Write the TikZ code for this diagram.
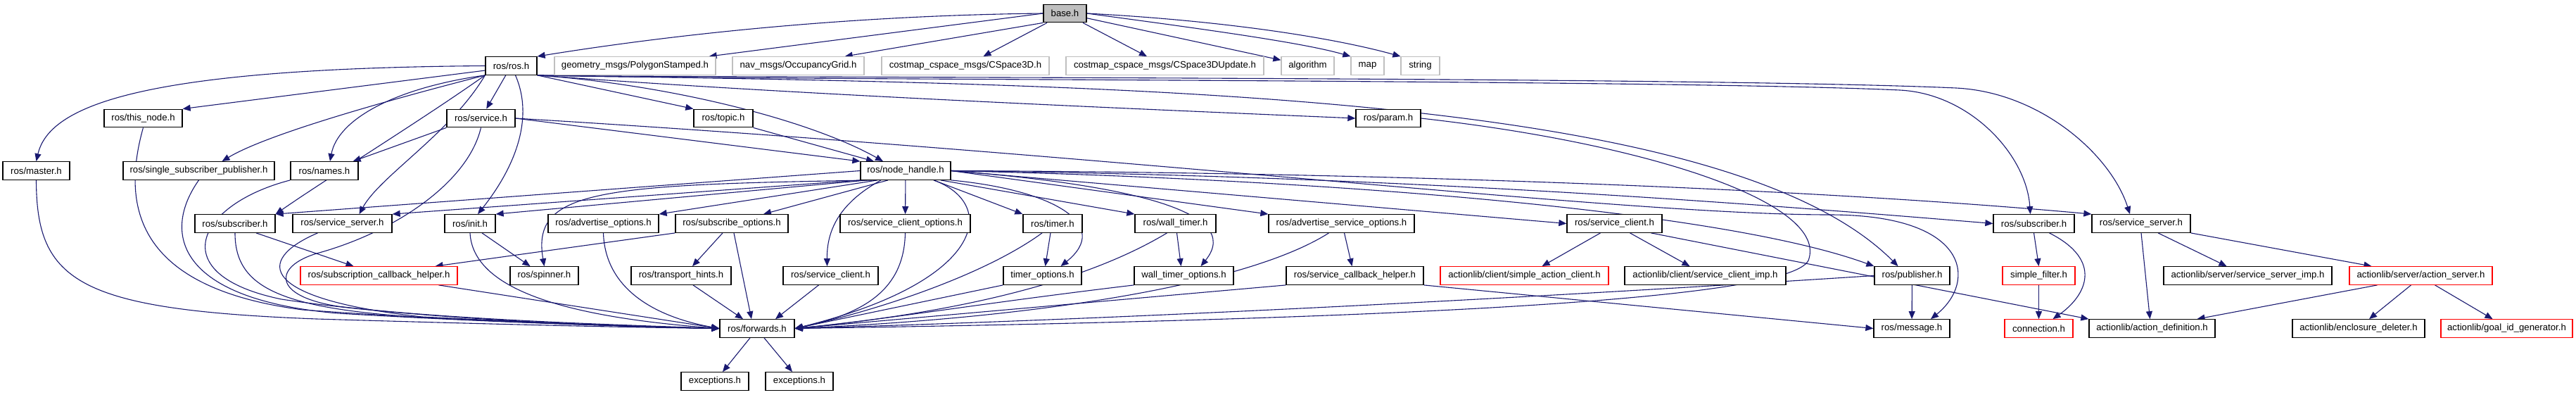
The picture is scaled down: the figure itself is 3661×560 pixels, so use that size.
\documentclass[tikz,border=0pt]{standalone}
\usepackage{fontspec}
\newfontfamily\dox{Liberation Sans}
\usetikzlibrary{arrows.meta,backgrounds}
\definecolor{edgeblue}{HTML}{191970}
\definecolor{gborder}{HTML}{BFBFBF}
\definecolor{basefill}{HTML}{BFBFBF}
\begin{document}
\begin{tikzpicture}[x=1pt,y=-1pt,
  nb/.style={draw=black,line width=1.3pt,fill=white,minimum height=25.5pt,inner sep=0pt,font={\dox\fontsize{13.2}{15}\selectfont}},
  ng/.style={nb,draw=gborder},
  nr/.style={nb,draw=red},
  e/.style={draw=edgeblue,line width=1.1pt,-{Triangle[length=11pt,width=9pt]}}]
\useasboundingbox (0,0) rectangle (3661,560);
% row 1
\node[nb,fill=basefill,minimum width=61pt] (base) at (1513.5,19) {base.h};
% row 2
\node[nb,minimum width=73pt] (ros) at (726.5,93.5) {ros/ros.h};
\node[ng,minimum width=229pt] (geom) at (902.5,93.5) {geometry\_msgs/PolygonStamped.h};
\node[ng,minimum width=187pt] (nav) at (1134.5,93.5) {nav\_msgs/OccupancyGrid.h};
\node[ng,minimum width=238pt] (cs3d) at (1372,93.5) {costmap\_cspace\_msgs/CSpace3D.h};
\node[ng,minimum width=281pt] (cs3du) at (1655.5,93.5) {costmap\_cspace\_msgs/CSpace3DUpdate.h};
\node[ng,minimum width=75pt] (algo) at (1858.5,93.5) {algorithm};
\node[ng,minimum width=47pt] (map) at (1943.5,93.5) {map};
\node[ng,minimum width=55pt] (str) at (2018.5,93.5) {string};
% row 3
\node[nb,minimum width=111pt] (thisnode) at (203.5,168) {ros/this\_node.h};
\node[nb,minimum width=97pt] (service) at (683.5,168) {ros/service.h};
\node[nb,minimum width=84pt] (topic) at (1028,168) {ros/topic.h};
\node[nb,minimum width=92pt] (param) at (1973,168) {ros/param.h};
% row 4
\node[nb,minimum width=95pt] (master) at (51.5,242.5) {ros/master.h};
\node[nb,minimum width=215pt] (ssp) at (282.5,242.5) {ros/single\_subscriber\_publisher.h};
\node[nb,minimum width=96pt] (names) at (461,242.5) {ros/names.h};
\node[nb,minimum width=128pt] (nh) at (1287,242.5) {ros/node\_handle.h};
% row 5
\node[nb,minimum width=114pt] (subL) at (334,317.5) {ros/subscriber.h};
\node[nb,minimum width=141pt] (ssL) at (486.5,317.5) {ros/service\_server.h};
\node[nb,minimum width=72pt] (init) at (668,317.5) {ros/init.h};
\node[nb,minimum width=157pt] (advopt) at (857.5,317.5) {ros/advertise\_options.h};
\node[nb,minimum width=160pt] (subopt) at (1040,317.5) {ros/subscribe\_options.h};
\node[nb,minimum width=185pt] (sco) at (1286.5,317.5) {ros/service\_client\_options.h};
\node[nb,minimum width=84pt] (timer) at (1496,317.5) {ros/timer.h};
\node[nb,minimum width=115pt] (wtimer) at (1670.5,317.5) {ros/wall\_timer.h};
\node[nb,minimum width=207pt] (aso) at (1906.5,317.5) {ros/advertise\_service\_options.h};
\node[nb,minimum width=135pt] (scR) at (2294.5,317.5) {ros/service\_client.h};
\node[nb,minimum width=115pt] (subR) at (2890.5,317.5) {ros/subscriber.h};
\node[nb,minimum width=140pt] (ssR) at (3043,317.5) {ros/service\_server.h};
% row 6
\node[nr,minimum width=223pt] (sch) at (538.5,391.5) {ros/subscription\_callback\_helper.h};
\node[nb,minimum width=97pt] (spinner) at (773.5,391.5) {ros/spinner.h};
\node[nb,minimum width=142pt] (th) at (968,391.5) {ros/transport\_hints.h};
\node[nb,minimum width=135pt] (scL) at (1180.5,391.5) {ros/service\_client.h};
\node[nb,minimum width=111pt] (topt) at (1481.5,391.5) {timer\_options.h};
\node[nb,minimum width=141pt] (wtopt) at (1682.5,391.5) {wall\_timer\_options.h};
\node[nb,minimum width=195pt] (scbh) at (1925.5,391.5) {ros/service\_callback\_helper.h};
\node[nr,minimum width=239pt] (sac) at (2166.5,391.5) {actionlib/client/simple\_action\_client.h};
\node[nb,minimum width=229pt] (sci) at (2423.5,391.5) {actionlib/client/service\_client\_imp.h};
\node[nb,minimum width=107pt] (pub) at (2717.5,391.5) {ros/publisher.h};
\node[nr,minimum width=103pt] (sf) at (2897.5,391.5) {simple\_filter.h};
\node[nb,minimum width=239pt] (ssi) at (3194.5,391.5) {actionlib/server/service\_server\_imp.h};
\node[nr,minimum width=203pt] (as) at (3440.5,391.5) {actionlib/server/action\_server.h};
% row 7
\node[nb,minimum width=106pt] (fwd) at (1076,466.5) {ros/forwards.h};
\node[nb,minimum width=108pt] (msg) at (2717,466.5) {ros/message.h};
\node[nr,minimum width=97pt] (conn) at (2897.5,466.5) {connection.h};
\node[nb,minimum width=179pt] (ad) at (3058.5,466.5) {actionlib/action\_definition.h};
\node[nb,minimum width=188pt] (ed) at (3352,466.5) {actionlib/enclosure\_deleter.h};
\node[nr,minimum width=187pt] (gid) at (3562.5,466.5) {actionlib/goal\_id\_generator.h};
% row 8
\node[nb,minimum width=96pt] (exc1) at (1016,541.5) {exceptions.h};
\node[nb,minimum width=96pt] (exc2) at (1136,541.5) {exceptions.h};

\begin{pgfonlayer}{background}
% base
\draw[e] (base.west) .. controls (1200,22) and (950,50) .. (ros.north east);
\draw[e] (base.west) -- ([xshift=-10pt]geom.north east);
\draw[e] (base.south west) -- ([xshift=-28pt]nav.north east);
\draw[e] (base) -- (cs3d);
\draw[e] (base) -- (cs3du);
\draw[e] (base) -- (algo);
\draw[e] (base.east) .. controls (1700,40) and (1850,60) .. (map.north west);
\draw[e] (base.east) .. controls (1750,30) and (1900,55) .. (str.north west);
% ros
\draw[e] (ros.west) .. controls (200,97) and (70,150) .. (master.north);
\draw[e] (ros.190) -- (thisnode.north east);
\draw[e] (ros.south west) .. controls (560,140) and (380,190) .. ([xshift=33pt]ssp.north);
\draw[e] (ros.south west) .. controls (560,125) and (480,170) .. ([xshift=8pt]names.north);
\draw[e] (ros.south west) .. controls (600,170) and (470,250) .. (subL.north east);
\draw[e] (ros.south west) .. controls (640,190) and (540,250) .. ([xshift=24pt]ssL.north);
\draw[e] (ros) -- (service);
\draw[e] ([xshift=6pt]ros.south) .. controls (760,170) and (730,240) .. ([xshift=11pt]init.north);
\draw[e] (ros.south east) -- (topic.north west);
\draw[e] (ros.south east) .. controls (950,120) and (1150,170) .. ([xshift=-32pt]nh.north);
\draw[e] (ros.south east) .. controls (1100,132) and (1500,150) .. (param.west);
\draw[e] (ros.south east) .. controls (1600,120) and (2450,130) .. ([xshift=-20pt]pub.north);
\draw[e] (ros.south east) .. controls (1000,114) and (2350,112) .. (2700,128) .. controls (2800,133) and (2880,220) .. ([xshift=-5pt]subR.north);
\draw[e] (ros.south east) .. controls (1000,111) and (2400,108) .. (2780,125) .. controls (2900,131) and (3000,220) .. ([xshift=-16pt]ssR.north);
% service
\draw[e] (service.south west) -- ([xshift=-8pt]names.north east);
\draw[e] (service.east) -- (nh.north west);
\draw[e] (service.south) .. controls (665,260) and (560,330) .. (450,360) .. controls (390,378) and (385,420) .. (480,435) .. controls (650,455) and (900,462) .. (fwd.west);
\draw[e] (service.east) .. controls (1600,220) and (2300,305) .. (2600,305) .. controls (2800,305) and (2810,400) .. ([xshift=27pt]msg.north);
% topic, param
\draw[e] (topic.south east) -- ([xshift=-45pt]nh.north);
\draw[e] (param.east) .. controls (2350,205) and (2600,290) .. (2570,370) .. controls (2540,430) and (1900,455) .. (fwd.east);
% row 3/4 to forwards
\draw[e] (master.south) .. controls (52,400) and (110,440) .. (450,453) .. controls (750,462) and (900,465) .. (fwd.west);
\draw[e] (thisnode.south) .. controls (170,300) and (200,410) .. (430,440) .. controls (650,456) and (900,464) .. (fwd.west);
\draw[e] (ssp.south) .. controls (230,330) and (250,425) .. (480,445) .. controls (700,458) and (900,464) .. (fwd.west);
\draw[e] (names.south west) .. controls (280,290) and (230,390) .. (400,425) .. controls (600,455) and (900,464) .. (fwd.west);
% subL, ssL, sch
\draw[e] (subL.south) .. controls (334,410) and (400,440) .. (620,452) .. controls (800,461) and (950,465) .. (fwd.west);
\draw[e] ([xshift=30pt]subL.south) -- ([xshift=-36pt]sch.north);
\draw[e] ([xshift=-35pt]ssL.south) .. controls (360,370) and (370,425) .. (600,450) .. controls (800,460) and (950,465) .. (fwd.west);
\draw[e] ([xshift=85pt]sch.south) -- (fwd.west);
% init
\draw[e] ([xshift=17pt]init.south) -- ([xshift=-20pt]spinner.north);
\draw[e] (init.south) .. controls (672,410) and (800,450) .. (fwd.west);
% advopt, subopt, th, scL
\draw[e] (advopt.south) .. controls (860,410) and (930,450) .. (fwd.west);
\draw[e] (subopt.south west) -- ([xshift=80pt]sch.north);
\draw[e] ([xshift=-13pt]subopt.south) -- ([xshift=16pt]th.north);
\draw[e] ([xshift=3pt]subopt.south) -- ([xshift=-8pt]fwd.north);
\draw[e] ([xshift=17pt]th.south) -- ([xshift=-20pt]fwd.north);
\draw[e] ([xshift=-17pt]scL.south) -- ([xshift=26pt]fwd.north);
% sco, timer, wtimer
\draw[e] (sco.south) .. controls (1285,410) and (1230,445) .. (fwd.east);
\draw[e] ([xshift=-3pt]timer.south) -- ([xshift=4pt]topt.north);
\draw[e] ([xshift=-15pt]timer.south) .. controls (1400,390) and (1250,440) .. (fwd.east);
\draw[e] (topt.south west) -- (fwd.east);
\draw[e] ([xshift=2pt]wtimer.south) -- ([xshift=-4pt]wtopt.north);
\draw[e] ([xshift=-12pt]wtimer.south) .. controls (1560,390) and (1400,440) .. (fwd.east);
\draw[e] (wtopt.south west) .. controls (1400,430) and (1250,455) .. (fwd.east);
% aso, scbh, pub
\draw[e] ([xshift=4pt]aso.south) -- ([xshift=-4pt]scbh.north);
\draw[e] ([xshift=-18pt]aso.south) .. controls (1780,400) and (1500,450) .. (fwd.east);
\draw[e] (scbh.south west) -- (fwd.east);
\draw[e] (scbh.south east) -- (msg.west);
\draw[e] (pub) -- (msg);
\draw[e] (pub.west) .. controls (2300,415) and (1700,450) .. (fwd.east);
% node_handle
\draw[e] (nh.west) -- (subL.north east);
\draw[e] (nh.south west) -- (ssL.north east);
\draw[e] ([xshift=10pt]nh.south west) -- (init.north east);
\draw[e] ([xshift=-45pt]nh.south) .. controls (850,262) and (755,270) .. (spinner.north);
\draw[e] ([xshift=-40pt]nh.south) -- (advopt.north east);
\draw[e] ([xshift=-25pt]nh.south) -- ([xshift=45pt]subopt.north);
\draw[e] (nh) -- (sco);
\draw[e] ([xshift=-35pt]nh.south) .. controls (1190,290) and (1175,330) .. ([xshift=-5pt]scL.north);
\draw[e] ([xshift=40pt]nh.south) -- (timer.north west);
\draw[e] (nh.south east) .. controls (1500,270) and (1580,320) .. ([xshift=26pt]topt.north);
\draw[e] (nh.-15) -- (wtimer.north west);
\draw[e] (nh.east) .. controls (1600,262) and (1770,300) .. ([xshift=24pt]wtopt.north);
\draw[e] (nh.east) -- (aso.north west);
\draw[e] (nh.east) -- (scR.west);
\draw[e] (nh.east) .. controls (1900,255) and (2450,300) .. (pub.north west);
\draw[e] (nh.east) .. controls (2000,250) and (2500,290) .. (subR.west);
\draw[e] (nh.east) .. controls (2000,245) and (2600,270) .. (ssR.north west);
\draw[e] ([xshift=40pt]nh.south) .. controls (1420,290) and (1400,400) .. (fwd.east);
% right part
\draw[e] ([xshift=-20pt]scR.south) -- ([xshift=25pt]sac.north);
\draw[e] ([xshift=22pt]scR.south) -- ([xshift=-22pt]sci.north);
\draw[e] ([xshift=52pt]scR.south) -- (ad.north west);
\draw[e] (subR.south) -- (sf.north);
\draw[e] ([xshift=22pt]subR.south) .. controls (2990,370) and (2965,420) .. ([xshift=20pt]conn.north);
\draw[e] (sf) -- (conn);
\draw[e] (ssR.south) -- ([xshift=-3pt]ad.north);
\draw[e] ([xshift=24pt]ssR.south) -- ([xshift=-30pt]ssi.north);
\draw[e] (ssR.south east) -- ([xshift=-70pt]as.north);
\draw[e] ([xshift=-62pt]as.south) -- ([xshift=64pt]ad.north);
\draw[e] ([xshift=-14pt]as.south) -- ([xshift=15pt]ed.north);
\draw[e] ([xshift=20pt]as.south) -- ([xshift=-20pt]gid.north);
% forwards
\draw[e] ([xshift=-10pt]fwd.south) -- ([xshift=11pt]exc1.north);
\draw[e] ([xshift=10pt]fwd.south) -- ([xshift=-10pt]exc2.north);
\end{pgfonlayer}
\end{tikzpicture}
\end{document}
